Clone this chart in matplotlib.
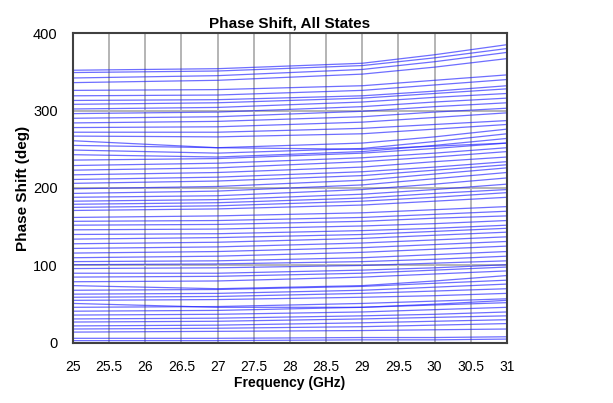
import matplotlib
matplotlib.use("Agg")
import matplotlib.pyplot as plt
import numpy as np

plt.rcParams['font.family'] = ['Liberation Sans', 'DejaVu Sans']

freq_ghz = [25, 27, 29, 30, 31]

# phase shift (deg) of every state, one list per frequency point
phase_25 = [3, 6, 14, 18, 22, 27, 31, 36, 41, 46, 51, 55, 59, 63, 68, 74,
            79, 85, 90, 96, 101, 105, 110, 116, 122, 128, 134, 140, 146, 152, 157, 162,
            171, 175, 179, 183, 188, 193, 199, 206, 211, 217, 223, 229, 236, 243, 249, 255,
            261, 267, 272, 278, 284, 290, 296, 302, 308, 313, 319, 326, 336, 342, 349, 352]
phase_27 = [3, 6, 15, 19, 23, 28, 32, 37, 42, 47, 46, 56, 60, 64, 69, 70,
            80, 86, 90, 97, 102, 106, 112, 118, 124, 130, 136, 141, 147, 153, 158, 164,
            173, 177, 181, 185, 190, 196, 202, 209, 214, 220, 226, 232, 238, 240, 245, 252,
            252, 266, 272, 279, 286, 292, 298, 304, 310, 314, 320, 327, 339, 345, 351, 354]
phase_29 = [4, 7, 16, 21, 26, 31, 35, 40, 46, 51, 46, 59, 64, 68, 73, 74,
            85, 90, 94, 100, 105, 110, 117, 123, 129, 135, 140, 145, 151, 157, 162, 168,
            178, 183, 187, 192, 198, 204, 210, 216, 221, 227, 234, 239, 245, 247, 251, 258,
            250, 270, 277, 285, 292, 299, 305, 311, 316, 319, 326, 332, 347, 353, 358, 361]
phase_30 = [4, 7, 17, 23, 28, 33, 37, 43, 49, 54, 50, 61, 67, 72, 77, 80,
            89, 94, 97, 103, 108, 114, 121, 127, 133, 139, 144, 148, 154, 161, 166, 172,
            183, 188, 193, 198, 205, 212, 218, 223, 227, 234, 240, 245, 251, 255, 260, 266,
            254, 276, 282, 291, 298, 305, 311, 317, 322, 325, 333, 339, 356, 363, 368, 372]
phase_31 = [5, 8, 18, 25, 30, 35, 40, 46, 52, 57, 55, 64, 70, 76, 81, 87,
            93, 98, 101, 106, 112, 118, 125, 131, 137, 143, 148, 152, 158, 164, 170, 176,
            188, 194, 198, 205, 213, 220, 226, 230, 234, 240, 247, 252, 258, 264, 270, 276,
            258, 282, 287, 297, 303, 310, 316, 322, 328, 332, 340, 346, 367, 375, 380, 385]

x_ticks = [25, 25.5, 26, 26.5, 27, 27.5, 28, 28.5, 29, 29.5, 30, 30.5, 31]
x_labels = ["25", "25.5", "26", "26.5", "27", "27.5", "28", "28.5", "29", "29.5", "30", "30.5", "31"]
y_ticks = [0, 100, 200, 300, 400]

fig = plt.figure(figsize=(6.13, 4.03), dpi=100)
ax = fig.add_axes([0.119, 0.149, 0.708, 0.769])

phases = np.array([phase_25, phase_27, phase_29, phase_30, phase_31])
for k in range(phases.shape[1]):
    ax.plot(freq_ghz, phases[:, k], color="#2020ff", lw=0.9, alpha=0.65)

ax.set_xlim(25, 31)
ax.set_ylim(0, 400)
ax.set_xticks(x_ticks)
ax.set_xticklabels(x_labels)
ax.set_yticks(y_ticks)
ax.grid(True, color="#b4b4b4", lw=1.4)
ax.set_axisbelow(True)
ax.tick_params(length=0, labelsize=10, pad=12)
ax.tick_params(axis="y", labelsize=10.5, pad=11)
for s in ax.spines.values():
    s.set_color("#404040")
    s.set_linewidth(1.5)

ax.set_title("Phase Shift, All States", fontsize=11, fontweight="bold", pad=4)
ax.set_xlabel("Frequency (GHz)", fontsize=10, fontweight="bold", labelpad=2)
ax.set_ylabel("Phase Shift (deg)", fontsize=11, fontweight="bold", labelpad=2)

fig.savefig("out.png", dpi=100)
